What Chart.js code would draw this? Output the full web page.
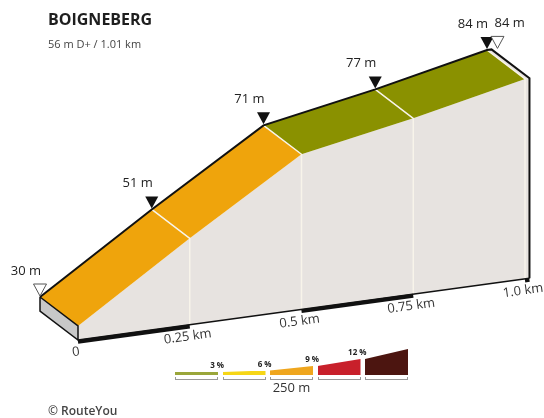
<!DOCTYPE html>
<html>
<head>
<meta charset="utf-8">
<script src="https://cdn.jsdelivr.net/npm/chart.js@4.4.0/dist/chart.umd.min.js"></script>
<style>
  body { margin: 0; background: #fff; font-family: "Open Sans", sans-serif; }
  #wrap { position: relative; width: 544px; height: 418px; overflow: hidden; }
  #wrap canvas { position: absolute; left: 0; top: 0; }
  .txt { position: absolute; white-space: nowrap; line-height: 1; }
  .title { left: 48px; top: 11px; font-size: 16px; font-weight: 700; color: #1e1e1e; }
  .sub { left: 48px; top: 38px; font-size: 11px; color: #444; }
  .copy { left: 48px; top: 405px; font-size: 12px; font-weight: 600; color: #444; }
  .bar { position: absolute; }
  .brk { position: absolute; height: 3px; border: 1px solid #999; border-top: none; box-sizing: border-box; }
  .pct { position: absolute; font-size: 8px; font-weight: 700; color: #222; line-height: 1; }
  .scale { left: 270px; width: 43px; text-align: center; top: 381px; font-size: 13px; color: #333; }
</style>
</head>
<body>
<div id="wrap">
  <canvas id="profile" width="544" height="418"></canvas>
  <div class="txt title">BOIGNEBERG</div>
  <div class="txt sub">56 m D+ / 1.01 km</div>
  <div class="txt copy">© RouteYou</div>
  <div class="txt scale">250 m</div>
  <div id="legend"></div>
</div>

<script>
// climb profile
const distKm = [0, 0.25, 0.5, 0.75, 1.0, 1.01];
const elevM = [30, 51, 71, 77, 84, 84];
const elevLabels = ['30 m', '51 m', '71 m', '77 m', '84 m', '84 m'];
const kmTicks = [0, 0.25, 0.5, 0.75, 1.0];
const kmLabels = ['0', '0.25 km', '0.5 km', '0.75 km', '1.0 km'];

// gradient classes (legend)
const gradeLimits = [3, 6, 9, 12];
const gradeNames = ['3 %', '6 %', '9 %', '12 %'];
const gradeColors = ['#8a9100', '#f4cf12', '#efa40c', '#c8202b', '#4c1510'];
const legendColors = ['#9aa63a', '#f6d616', '#efa61e', '#c8202b', '#4c1510'];

// fake 3d block
const SKEW = 17.8;       // baseline rise, m per km
const DEPTH_X = -0.085;  // back edge shift, km
const DEPTH_Y = 8.4;     // back edge shift, m
const BASE = 25.9;       // bottom of the block, m
const FACE = '#e7e3e0';

const front = (d, e) => ({x: d, y: e + SKEW * d});
const back = (d, e) => ({x: d + DEPTH_X, y: e + SKEW * d + DEPTH_Y});
const last = distKm.length - 1;
const endKm = distKm[last];

function gradeColor(i) {
    const g = (elevM[i + 1] - elevM[i]) / ((distKm[i + 1] - distKm[i]) * 1000) * 100;
    if (g < 1) return FACE;
    let k = gradeLimits.findIndex(l => g <= l);
    if (k < 0) k = gradeLimits.length;
    return gradeColors[k];
}

function poly(points, color, order, border, width) {
    return {
        data: points.concat([points[0]]),
        showLine: true, fill: 'shape', backgroundColor: color,
        borderColor: border || color, borderWidth: width || 0,
        pointRadius: 0, tension: 0, order: order
    };
}
function path(points, color, width, order) {
    return {
        data: points, showLine: true, fill: false,
        borderColor: color, borderWidth: width, borderCapStyle: 'butt',
        pointRadius: 0, tension: 0, order: order
    };
}

const datasets = [];

// front face
const frontTop = distKm.map((d, i) => front(d, elevM[i]));
datasets.push(poly(frontTop.concat([front(endKm, BASE), front(0, BASE)]), FACE, 10));

// top surface, one band per segment
for (let i = 0; i < last; i++) {
    datasets.push(poly([
        back(distKm[i], elevM[i]), back(distKm[i + 1], elevM[i + 1]),
        front(distKm[i + 1], elevM[i + 1]), front(distKm[i], elevM[i])
    ], gradeColor(i), 9));
}

// left end of the block
datasets.push(poly([back(0, elevM[0]), front(0, elevM[0]), front(0, BASE), back(0, BASE)], '#c8c8c8', 8, '#111', 1.5));

// white dividers at every km mark
kmTicks.slice(1).forEach(t => {
    const i = distKm.indexOf(t);
    datasets.push(path([back(t, elevM[i]), front(t, elevM[i]), front(t, BASE)], '#f8f4ea', 1.5, 7));
});

// baseline, with a checkered scale bar
datasets.push(path([front(0, BASE), front(endKm, BASE)], '#111', 1.5, 6));
[[0, 0.25], [0.5, 0.75], [1.0, endKm]].forEach(s => {
    datasets.push(path([front(s[0], BASE - 0.5), front(s[1], BASE - 0.5)], '#111', 4, 6));
});

// outline of the ridge
datasets.push(path(
    distKm.map((d, i) => back(d, elevM[i])).concat([front(endKm, elevM[last]), front(endKm, BASE)]),
    '#111', 2, 5));

function triangle(ctx, x, y, hollow) {
    ctx.beginPath();
    ctx.moveTo(x, y);
    ctx.lineTo(x - 6.5, y - 12);
    ctx.lineTo(x + 6.5, y - 12);
    ctx.closePath();
    if (hollow) {
        ctx.fillStyle = '#fff'; ctx.fill();
        ctx.strokeStyle = '#555'; ctx.lineWidth = 1; ctx.stroke();
    } else {
        ctx.fillStyle = '#111'; ctx.fill();
    }
}

const profileText = {
    id: 'profileText',
    afterDatasetsDraw(chart) {
        const {ctx, scales: {x, y}} = chart;
        const px = p => [x.getPixelForValue(p.x), y.getPixelForValue(p.y)];
        ctx.save();
        ctx.font = '13px "Open Sans"';
        ctx.textBaseline = 'middle';
        ctx.fillStyle = '#222';
        distKm.forEach((d, i) => {
            let [tx, ty] = px(back(d, elevM[i]));
            const isEnd = i === last;
            if (isEnd) tx += 6;
            triangle(ctx, tx, ty - 1, i === 0 || isEnd);
            ctx.fillStyle = '#222';
            ctx.textAlign = isEnd ? 'left' : 'right';
            ctx.fillText(elevLabels[i], isEnd ? tx - 3 : tx + 1, ty - 26);
        });

        const [ax, ay] = px(front(0, BASE));
        const [bx, by] = px(front(endKm, BASE));
        const ang = Math.atan2(by - ay, bx - ax);
        ctx.fillStyle = '#333';
        ctx.textAlign = 'center';
        kmTicks.forEach((t, i) => {
            const [kx, ky] = px(front(t, BASE));
            ctx.save();
            ctx.translate(kx - 2, ky + 12);
            ctx.rotate(ang);
            ctx.fillText(kmLabels[i], 0, 0);
            ctx.restore();
        });
        ctx.restore();
    }
};

new Chart(document.getElementById('profile'), {
    type: 'scatter',
    data: {datasets: datasets},
    options: {
        responsive: false,
        animation: false,
        events: [],
        layout: {padding: 0},
        plugins: {legend: {display: false}, tooltip: {enabled: false}},
        scales: {
            x: {type: 'linear', display: false, min: -0.1745, max: 1.0425},
            y: {type: 'linear', display: false, min: 3.23, max: 124.74}
        }
    },
    plugins: [profileText]
});

// legend: grade wedges
const legend = document.getElementById('legend');
const wedge = [3, 3, 4.5, 9, 16, 26];
legendColors.forEach((c, k) => {
    const left = 175 + k * 47.5, w = 43, hl = wedge[k], hr = wedge[k + 1], h = hr;
    const bar = document.createElement('div');
    bar.className = 'bar';
    bar.style.cssText = `left:${left}px;top:${375 - h}px;width:${w}px;height:${h}px;background:${c};` +
        `clip-path:polygon(0 ${h - hl}px, 100% 0, 100% 100%, 0 100%);`;
    legend.appendChild(bar);
    const brk = document.createElement('div');
    brk.className = 'brk';
    brk.style.cssText = `left:${left}px;top:377px;width:${w}px;`;
    legend.appendChild(brk);
    if (k < gradeNames.length) {
        const lab = document.createElement('div');
        lab.className = 'pct';
        lab.textContent = gradeNames[k];
        lab.style.cssText = `right:${544 - (left + w + 6)}px;top:${375 - hr - 11}px;`;
        legend.appendChild(lab);
    }
});
</script>
</body>
</html>
